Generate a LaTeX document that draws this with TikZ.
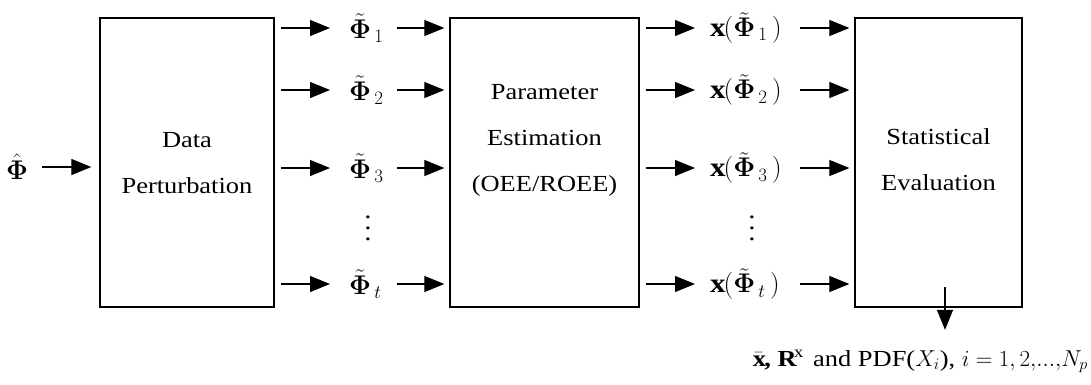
\RequirePackage{fix-cm}
\documentclass[tikz,border=0pt]{standalone}
\usepackage{amsmath}
\usepackage{fontspec}
\setmainfont{Liberation Serif}[FakeStretch=1.15]
\usetikzlibrary{arrows.meta}
\begin{document}
\begin{tikzpicture}[x=1pt,y=-1pt,
  every node/.style={inner sep=0pt, font=\fontsize{23}{46}\selectfont},
  box/.style={draw, line width=1.3pt, minimum width=#1, minimum height=289pt},
  arr/.style={-{Triangle[length=20pt,width=16pt]}, line width=1.2pt},
  lbl/.style={anchor=west, text width=#1, align=left, font=\fontsize{27}{27}\selectfont},
  dots/.style={font=\fontsize{25}{11}\selectfont, align=center}]
\useasboundingbox (0,0) rectangle (1091,384);
% boxes
\node[box=174pt] (d) at (187,162.5) {};
\node[box=189pt] (e) at (544.5,162.5) {};
\node[box=167pt] (s) at (938.5,162.5) {};
\node[align=center] (dt) at (187,163) {Data\\Perturbation};
\node[align=center] (et) at (544.5,140) {Parameter\\Estimation\\(OEE/ROEE)};
\node[align=center] (st) at (938.5,160) {Statistical\\Evaluation};
% input
\node[font=\fontsize{27}{27}\selectfont] (in) at (17,167) {$\hat{\boldsymbol\Phi}$};
\draw[arr, shorten <=14pt, shorten >=8pt] (in.east) -- (d.west |- in.east);
% rows
\foreach \i/\y in {1/28,2/90,3/168,t/284}{
  \node[lbl=40pt] (p\i) at (349,\y) {$\tilde{\boldsymbol\Phi}_{\,\i}$};
  \node[lbl=80pt] (x\i) at (710,\y) {$\mathbf{x}(\tilde{\boldsymbol\Phi}_{\,\i}\,)$};
  \draw[arr, shorten <=6pt, shorten >=19pt] (d.east |- p\i.west) -- (p\i.west);
  \draw[arr, shorten <=8pt, shorten >=5pt] (p\i.east) -- (e.west |- p\i.east);
  \draw[arr, shorten <=6pt, shorten >=15pt] (e.east |- x\i.west) -- (x\i.west);
  \draw[arr, shorten <=10pt, shorten >=5pt] (x\i.east) -- (s.west |- x\i.east);
}
\node[dots] (dp) at (368,228) {.\\.\\.};
\node[dots] (dx) at (752,228) {.\\.\\.};
% output
\coordinate (sb) at (945,287);
\node[anchor=base east] (out) at (1088,366) {$\bar{\mathbf{x}}$\textbf{,} $\mathbf{R}^{\mathrm{x}}$\, and PDF($X_i$), $i = 1{,}\,2{,}...{,}N_p$};
\draw[arr, shorten >=20pt] (sb) -- (sb |- out.north);
\end{tikzpicture}
\end{document}
